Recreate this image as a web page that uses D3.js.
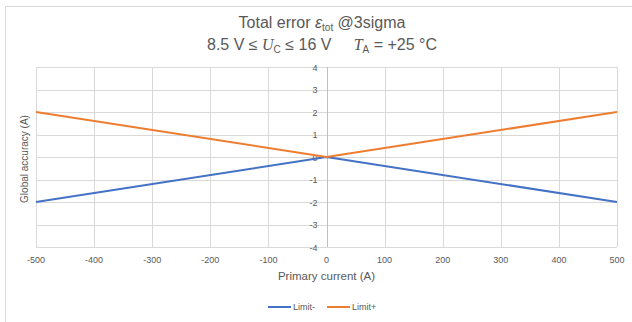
<!DOCTYPE html>
<meta charset="utf-8" />
<style>
  body { margin: 0; background: #fff; }
  text { font-family: "Liberation Sans", Arial, sans-serif; fill: #595959; }
</style>
<svg width="632" height="322"></svg>
<script src="https://d3js.org/d3.v7.min.js"></script>
<script>
  // data
  var current = [-500, 0, 500];
  var limitMinus = [-2, 0, -2];
  var limitPlus = [2, 0, 2];
  var xTicks = [-500, -400, -300, -200, -100, 0, 100, 200, 300, 400, 500];
  var yTicks = [-4, -3, -2, -1, 0, 1, 2, 3, 4];
  var seriesNames = ["Limit-", "Limit+"];
  var seriesColors = ["#4472c4", "#ed7d31"];

  var svg = d3.select("svg");

  // outer chart border
  svg.append("rect")
    .attr("x", 5.5).attr("y", 6.5)
    .attr("width", 640).attr("height", 330)
    .attr("fill", "none").attr("stroke", "#d9d9d9");

  var plotL = 36, plotR = 617, plotT = 67, plotB = 247;
  var x = d3.scaleLinear().domain([-500, 500]).range([plotL, plotR]);
  var y = d3.scaleLinear().domain([-4, 4]).range([plotB, plotT]);

  // grid
  svg.append("g").selectAll("line").data(yTicks).enter().append("line")
    .attr("x1", plotL).attr("x2", plotR)
    .attr("y1", d => Math.round(y(d)) + 0.5).attr("y2", d => Math.round(y(d)) + 0.5)
    .attr("stroke", "#d9d9d9");
  svg.append("g").selectAll("line").data(xTicks).enter().append("line")
    .attr("y1", plotT).attr("y2", plotB)
    .attr("x1", d => Math.round(x(d)) + 0.5).attr("x2", d => Math.round(x(d)) + 0.5)
    .attr("stroke", d => d === 0 ? "#bfbfbf" : "#d9d9d9");

  // x tick labels
  svg.append("g").selectAll("text").data(xTicks).enter().append("text")
    .attr("x", d => x(d)).attr("y", 263)
    .attr("text-anchor", "middle").attr("font-size", 9)
    .text(d => d);

  // y tick labels next to the zero line
  svg.append("g").selectAll("text").data(yTicks).enter().append("text")
    .attr("x", x(0) - 9).attr("y", d => y(d) + 3.5)
    .attr("text-anchor", "end").attr("font-size", 9)
    .text(d => d);

  // series
  var line = d3.line().x(d => x(d[0])).y(d => y(d[1]));
  [limitMinus, limitPlus].forEach(function(vals, i) {
    svg.append("path")
      .datum(current.map((c, j) => [c, vals[j]]))
      .attr("d", line)
      .attr("fill", "none")
      .attr("stroke", seriesColors[i])
      .attr("stroke-width", 2)
      .attr("stroke-linejoin", "round");
  });

  // titles
  var t1 = svg.append("text").attr("x", 322).attr("y", 28)
    .attr("text-anchor", "middle").attr("font-size", 16);
  t1.append("tspan").text("Total error ");
  t1.append("tspan").attr("font-style", "italic").text("ε");
  t1.append("tspan").attr("font-size", 10).attr("dy", 3).text("tot");
  t1.append("tspan").attr("dy", -3).text(" @3sigma");

  var t2 = svg.append("text").attr("x", 322).attr("y", 50)
    .attr("text-anchor", "middle").attr("font-size", 16);
  t2.append("tspan").text("8.5 V ≤ ");
  t2.append("tspan").attr("font-family", "Liberation Serif, serif").attr("font-style", "italic").text("U");
  t2.append("tspan").attr("font-size", 10).attr("dy", 3).text("C");
  t2.append("tspan").attr("dy", -3).text(" ≤ 16 V\u00a0\u00a0\u00a0\u00a0\u00a0");
  t2.append("tspan").attr("font-family", "Liberation Serif, serif").attr("font-style", "italic").text("T");
  t2.append("tspan").attr("font-size", 10).attr("dy", 3).text("A");
  t2.append("tspan").attr("dy", -3).text(" = +25 °C");

  svg.append("text").attr("x", x(0)).attr("y", 280)
    .attr("text-anchor", "middle").attr("font-size", 11.5)
    .text("Primary current (A)");

  svg.append("text")
    .attr("transform", "translate(28," + (y(0) + 2) + ") rotate(-90)")
    .attr("text-anchor", "middle").attr("font-size", 10)
    .text("Global accuracy (A)");

  // legend
  var legend = svg.append("g").selectAll("g").data(seriesNames).enter().append("g")
    .attr("transform", (d, i) => "translate(" + (268 + i * 59) + ",307)");
  legend.append("line").attr("x1", 0).attr("x2", 23)
    .attr("stroke", (d, i) => seriesColors[i]).attr("stroke-width", 2);
  legend.append("text").attr("x", 25).attr("y", 3).attr("font-size", 9)
    .text(d => d);
</script>
